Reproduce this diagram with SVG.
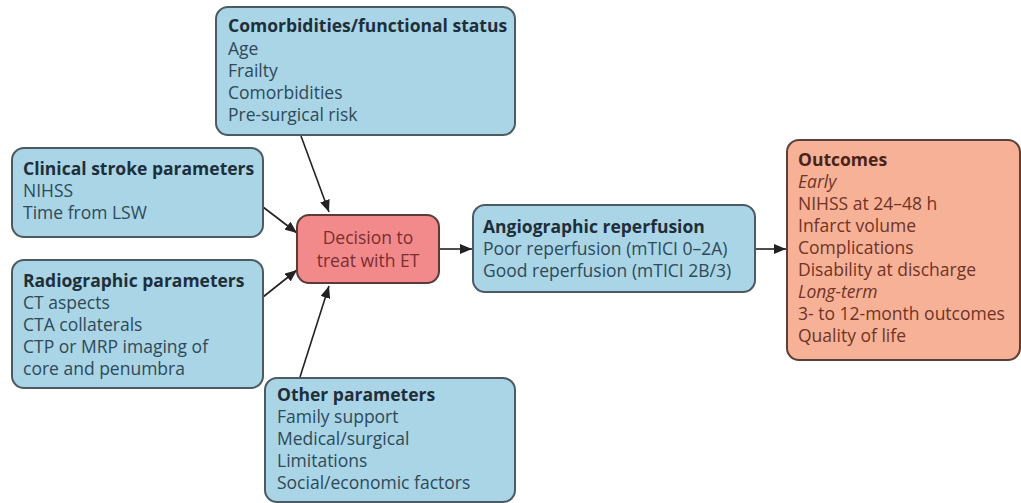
<svg xmlns="http://www.w3.org/2000/svg" width="1021" height="503" viewBox="0 0 1021 503">
<defs>
<marker id="ah" viewBox="0 0 12 10" refX="12" refY="5" markerWidth="12" markerHeight="10" markerUnits="userSpaceOnUse" orient="auto">
<path d="M0,0 L12,5 L0,10 z" fill="#222"/>
</marker>
</defs>
<style>
.blue{fill:#a9d5e7;stroke:#4d5a62;stroke-width:2}
.pink{fill:#f28a8c;stroke:#5a3a3a;stroke-width:2}
.orange{fill:#f7b197;stroke:#5a4038;stroke-width:2}
text{font-family:"Open Sans","Noto Sans","Liberation Sans",sans-serif;font-size:17.5px}
.bt{fill:#2f4957}
.bh{fill:#1f2f3a;font-weight:bold}
.pt{fill:#7a2e30}
.ot{fill:#6e3426}
.oh{fill:#4a2418;font-weight:bold}
.it{font-style:italic}
.conn{stroke:#222;stroke-width:1.6;fill:none;marker-end:url(#ah)}
</style>
<rect width="1021" height="503" fill="#ffffff"/>
<g id="connectors">
<line class="conn" x1="301" y1="136" x2="329" y2="212"/>
<line class="conn" x1="263" y1="207" x2="297" y2="233"/>
<line class="conn" x1="263" y1="297" x2="297" y2="270"/>
<line class="conn" x1="300" y1="377" x2="329" y2="286"/>
<line class="conn" x1="440" y1="249" x2="472" y2="249"/>
<line class="conn" x1="756" y1="249" x2="786" y2="249"/>
</g>
<g id="comorbidities">
<rect class="blue" x="216" y="7" width="299" height="128" rx="12"/>
<text x="228" y="32" class="bh">Comorbidities/functional status</text>
<text x="228" y="55" class="bt">Age</text>
<text x="228" y="77" class="bt">Frailty</text>
<text x="228" y="99" class="bt">Comorbidities</text>
<text x="228" y="121" class="bt">Pre-surgical risk</text>
</g>
<g id="clinical">
<rect class="blue" x="12" y="148" width="251" height="89" rx="12"/>
<text x="23" y="175" class="bh">Clinical stroke parameters</text>
<text x="23" y="197" class="bt">NIHSS</text>
<text x="23" y="219" class="bt">Time from LSW</text>
</g>
<g id="radiographic">
<rect class="blue" x="12" y="260" width="251" height="128" rx="12"/>
<text x="23" y="287" class="bh">Radiographic parameters</text>
<text x="23" y="309" class="bt">CT aspects</text>
<text x="23" y="331" class="bt">CTA collaterals</text>
<text x="23" y="353" class="bt">CTP or MRP imaging of</text>
<text x="23" y="375" class="bt">core and penumbra</text>
</g>
<g id="decision">
<rect class="pink" x="297" y="215" width="142" height="68" rx="12"/>
<text x="368" y="244" class="pt" text-anchor="middle">Decision to</text>
<text x="368" y="267" class="pt" text-anchor="middle">treat with ET</text>
</g>
<g id="other">
<rect class="blue" x="265" y="378" width="250" height="124" rx="12"/>
<text x="277" y="401" class="bh">Other parameters</text>
<text x="277" y="423" class="bt">Family support</text>
<text x="277" y="445" class="bt">Medical/surgical</text>
<text x="277" y="467" class="bt">Limitations</text>
<text x="277" y="489" class="bt">Social/economic factors</text>
</g>
<g id="angiographic">
<rect class="blue" x="473" y="205" width="282" height="87" rx="12"/>
<text x="483" y="233" class="bh">Angiographic reperfusion</text>
<text x="483" y="255" class="bt">Poor reperfusion (mTICI 0–2A)</text>
<text x="483" y="277" class="bt">Good reperfusion (mTICI 2B/3)</text>
</g>
<g id="outcomes">
<rect class="orange" x="787" y="140" width="233" height="220" rx="12"/>
<text x="798" y="166" class="oh">Outcomes</text>
<text x="798" y="188" class="ot it">Early</text>
<text x="798" y="210" class="ot">NIHSS at 24–48 h</text>
<text x="798" y="232" class="ot">Infarct volume</text>
<text x="798" y="254" class="ot">Complications</text>
<text x="798" y="276" class="ot">Disability at discharge</text>
<text x="798" y="298" class="ot it">Long-term</text>
<text x="798" y="320" class="ot">3- to 12-month outcomes</text>
<text x="798" y="342" class="ot">Quality of life</text>
</g>
</svg>
